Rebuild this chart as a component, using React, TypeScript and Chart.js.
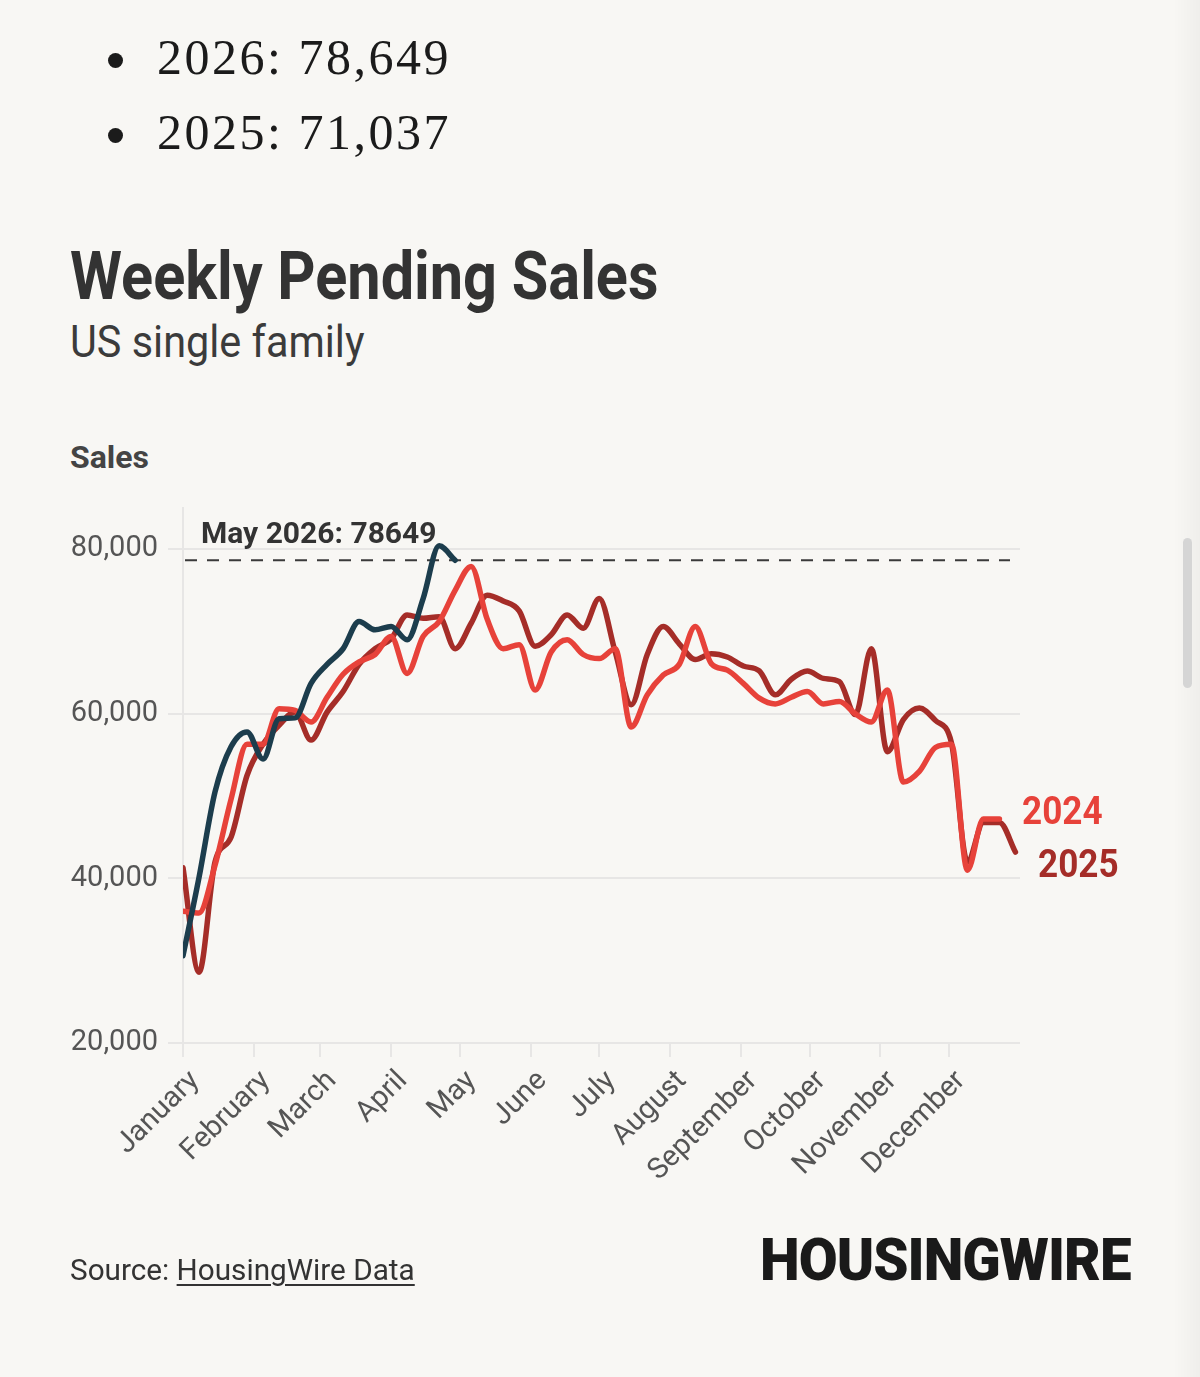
import React, { useEffect, useRef } from "react";
import { Chart, registerables } from "chart.js";

Chart.register(...registerables);

// Month axis: first day of each month (day of year, leap-year calendar)
const MONTHS = [
  "January", "February", "March", "April", "May", "June",
  "July", "August", "September", "October", "November", "December",
];
const MONTH_START_DAYS = [0, 31, 60, 91, 121, 152, 182, 213, 244, 274, 305, 335];
const YEAR_DAYS = 366;
const Y_TICKS = [20000, 40000, 60000, 80000];

// Weekly pending sales, one value per week of the year
const SALES_2024 = [
  36000, 35800, 41600, 49600, 56300, 56300, 60600, 60400, 59000, 62000,
  64800, 66300, 67200, 69400, 64900, 69400, 71200, 75000, 77900, 71500,
  67900, 68400, 62900, 67500, 69000, 67200, 66700, 67900, 58400, 62300,
  64700, 66000, 70600, 66100, 65300, 63700, 61900, 61200, 62000, 62700,
  61200, 61500, 60000, 59000, 62900, 51700, 53000, 55900, 56300, 41000,
  47200, 47200,
];
const SALES_2025 = [
  41300, 28600, 42000, 45000, 52500, 56300, 58600, 60200, 56800, 60200,
  62700, 66000, 67900, 69100, 72000, 71600, 71800, 67900, 71000, 74400,
  73700, 72500, 68200, 69600, 72000, 70400, 74000, 67500, 61100, 67200,
  70600, 68500, 66600, 67300, 66900, 65800, 65200, 62300, 64200, 65200,
  64300, 63900, 59900, 67900, 55400, 59300, 60700, 59200, 56500, 42000,
  46800, 46800, 43200,
];
const SALES_2026 = [
  30600, 40100, 50500, 56000, 57800, 54500, 59400, 59500, 63700, 66000,
  67900, 71200, 70200, 70600, 69000, 74000, 80400, 78649,
];
const LATEST_2026 = SALES_2026[SALES_2026.length - 1];
const LATEST_LABEL = "May 2026";

const SUMMARY = [
  { year: "2026", value: 78649 },
  { year: "2025", value: 71037 },
];

const COLORS = {
  bg: "#f8f7f4",
  y2024: "#e7423a",
  y2025: "#a52d28",
  y2026: "#1c3d4d",
  grid: "#e7e6e5",
  tick: "#555555",
  ink: "#333333",
};

const fmt = (n: number) => n.toLocaleString("en-US");
const toPoints = (arr: number[]) => arr.map((v, i) => ({ x: i, y: v }));

const overlayPlugin = {
  id: "overlay",
  beforeDatasetsDraw(chart: any) {
    const { ctx, chartArea, scales } = chart;
    const y = scales.y.getPixelForValue(LATEST_2026);
    ctx.save();
    ctx.setLineDash([12, 10]);
    ctx.strokeStyle = "#3a3a3a";
    ctx.lineWidth = 2;
    ctx.beginPath();
    ctx.moveTo(chartArea.left + 2, y);
    ctx.lineTo(chartArea.right - 10, y);
    ctx.stroke();
    ctx.restore();
  },
  afterDatasetsDraw(chart: any) {
    const { ctx, chartArea, scales } = chart;
    const y = scales.y.getPixelForValue(LATEST_2026);
    ctx.save();
    ctx.fillStyle = COLORS.ink;
    ctx.font = "bold 30px Roboto";
    ctx.textBaseline = "alphabetic";
    ctx.fillText(`${LATEST_LABEL}: ${LATEST_2026}`, chartArea.left + 18, y - 17);

    const end = (arr: number[]) => ({
      x: scales.x.getPixelForValue(arr.length - 1),
      y: scales.y.getPixelForValue(arr[arr.length - 1]),
    });
    const e24 = end(SALES_2024);
    const e25 = end(SALES_2025);
    const label = (text: string, color: string, x: number, base: number) => {
      ctx.save();
      ctx.translate(x, base);
      ctx.scale(0.9, 1);
      ctx.font = "bold 39px Roboto";
      ctx.fillStyle = color;
      ctx.fillText(text, 0, 0);
      ctx.restore();
    };
    label("2024", COLORS.y2024, chartArea.right + 2, e24.y + 5);
    label("2025", COLORS.y2025, chartArea.right + 18, e25.y + 25);
    ctx.restore();
  },
};

const robotoTop = (baseline: number, size: number) => baseline - 0.8415 * size;
const serifTop = (baseline: number, size: number) => baseline - 0.8375 * size;

export default function App() {
  const canvasRef = useRef<HTMLCanvasElement>(null);

  useEffect(() => {
    const canvas = canvasRef.current;
    if (!canvas) return;
    const monthTicks = MONTH_START_DAYS.map((d) => d / 7);

    const chart = new Chart(canvas, {
      type: "line",
      data: {
        datasets: [
          {
            label: "2026",
            data: toPoints(SALES_2026),
            borderColor: COLORS.y2026,
          },
          {
            label: "2024",
            data: toPoints(SALES_2024),
            borderColor: COLORS.y2024,
          },
          {
            label: "2025",
            data: toPoints(SALES_2025),
            borderColor: COLORS.y2025,
          },
        ].map((d) => ({
          ...d,
          borderWidth: 5.5,
          pointRadius: 0,
          fill: false,
          cubicInterpolationMode: "monotone" as const,
          borderCapStyle: "round" as const,
          borderJoinStyle: "round" as const,
        })),
      },
      options: {
        responsive: false,
        animation: false,
        devicePixelRatio: 1,
        layout: { padding: { top: 508, right: 180, bottom: 0, left: 0 } },
        plugins: {
          legend: { display: false },
          tooltip: { enabled: false },
        },
        scales: {
          x: {
            type: "linear",
            min: 0,
            max: YEAR_DAYS / 7,
            afterBuildTicks: (scale: any) => {
              scale.ticks = monthTicks.map((v) => ({ value: v }));
            },
            afterFit: (scale: any) => {
              scale.height = 334;
            },
            ticks: {
              autoSkip: false,
              minRotation: 45,
              maxRotation: 45,
              padding: 7,
              labelOffset: 12,
              color: COLORS.tick,
              font: { family: "Roboto", size: 29 },
              callback: (_v: any, i: number) => MONTHS[i],
            },
            grid: {
              drawOnChartArea: false,
              drawTicks: true,
              tickLength: 14,
              tickColor: COLORS.grid,
              lineWidth: 2,
            },
            border: { display: false },
          },
          y: {
            type: "linear",
            min: 20000,
            max: 85000,
            afterBuildTicks: (scale: any) => {
              scale.ticks = Y_TICKS.map((v) => ({ value: v }));
            },
            afterFit: (scale: any) => {
              scale.width = 183;
            },
            ticks: {
              padding: 10,
              color: COLORS.tick,
              font: { family: "Roboto", size: 29 },
              callback: (v: any) => fmt(Number(v)),
            },
            grid: {
              color: COLORS.grid,
              lineWidth: 2,
              tickLength: 15,
              tickColor: COLORS.grid,
            },
            border: { display: true, color: COLORS.grid, width: 2 },
          },
        },
      },
      plugins: [overlayPlugin],
    } as any);

    return () => chart.destroy();
  }, []);

  const abs = (extra: React.CSSProperties): React.CSSProperties => ({
    position: "absolute",
    whiteSpace: "nowrap",
    lineHeight: 1,
    margin: 0,
    ...extra,
  });

  return (
    <div
      style={{
        position: "absolute",
        left: 0,
        top: 0,
        width: 1200,
        height: 1377,
        background: COLORS.bg,
        overflow: "hidden",
      }}
    >
      {SUMMARY.map((s, i) => (
        <React.Fragment key={s.year}>
          <div
            style={{
              position: "absolute",
              left: 108,
              top: 53 + i * 75,
              width: 15,
              height: 15,
              borderRadius: "50%",
              background: "#1b1b1b",
            }}
          />
          <div
            style={abs({
              left: 157,
              top: serifTop(74 + i * 75, 50),
              fontFamily: "'Liberation Serif', serif",
              fontSize: 50,
              letterSpacing: 2.5,
              color: "#1b1b1b",
            })}
          >
            {s.year}: {fmt(s.value)}
          </div>
        </React.Fragment>
      ))}

      <div
        style={abs({
          left: 70,
          top: robotoTop(300, 66),
          fontFamily: "Roboto",
          fontWeight: 700,
          fontSize: 66,
          color: "#333333",
          transform: "scaleX(0.9)",
          transformOrigin: "left",
        })}
      >
        Weekly Pending Sales
      </div>
      <div
        style={abs({
          left: 70,
          top: robotoTop(357, 45),
          fontFamily: "Roboto",
          fontSize: 45,
          color: "#3b3b3b",
          transform: "scaleX(0.92)",
          transformOrigin: "left",
        })}
      >
        US single family
      </div>
      <div
        style={abs({
          left: 70,
          top: robotoTop(468, 32),
          fontFamily: "Roboto",
          fontWeight: 700,
          fontSize: 32,
          color: "#444444",
        })}
      >
        Sales
      </div>

      <canvas
        ref={canvasRef}
        width={1200}
        height={1377}
        style={{ position: "absolute", left: 0, top: 0 }}
      />

      <div
        style={abs({
          left: 70,
          top: robotoTop(1280, 30),
          fontFamily: "Roboto",
          fontSize: 30,
          color: "#333333",
          transform: "scaleX(0.99)",
          transformOrigin: "left",
        })}
      >
        Source:{" "}
        <span
          style={{
            textDecoration: "underline",
            textDecorationThickness: 2,
            textUnderlineOffset: 4,
          }}
        >
          HousingWire Data
        </span>
      </div>
      <div
        style={abs({
          left: 760,
          top: robotoTop(1280, 60),
          fontFamily: "Roboto",
          fontWeight: 900,
          fontSize: 60,
          color: "#1a1a1a",
          transform: "scaleX(0.94)",
          transformOrigin: "left",
          letterSpacing: -1,
        })}
      >
        HOUSINGWIRE
      </div>

      <div
        style={{
          position: "absolute",
          right: 0,
          top: 0,
          width: 26,
          height: 1377,
          background: "linear-gradient(to right, rgba(0,0,0,0), rgba(0,0,0,0.035))",
        }}
      />
      <div
        style={{
          position: "absolute",
          left: 1183,
          top: 538,
          width: 9,
          height: 150,
          borderRadius: 5,
          background: "#d5d5d5",
        }}
      />
    </div>
  );
}
